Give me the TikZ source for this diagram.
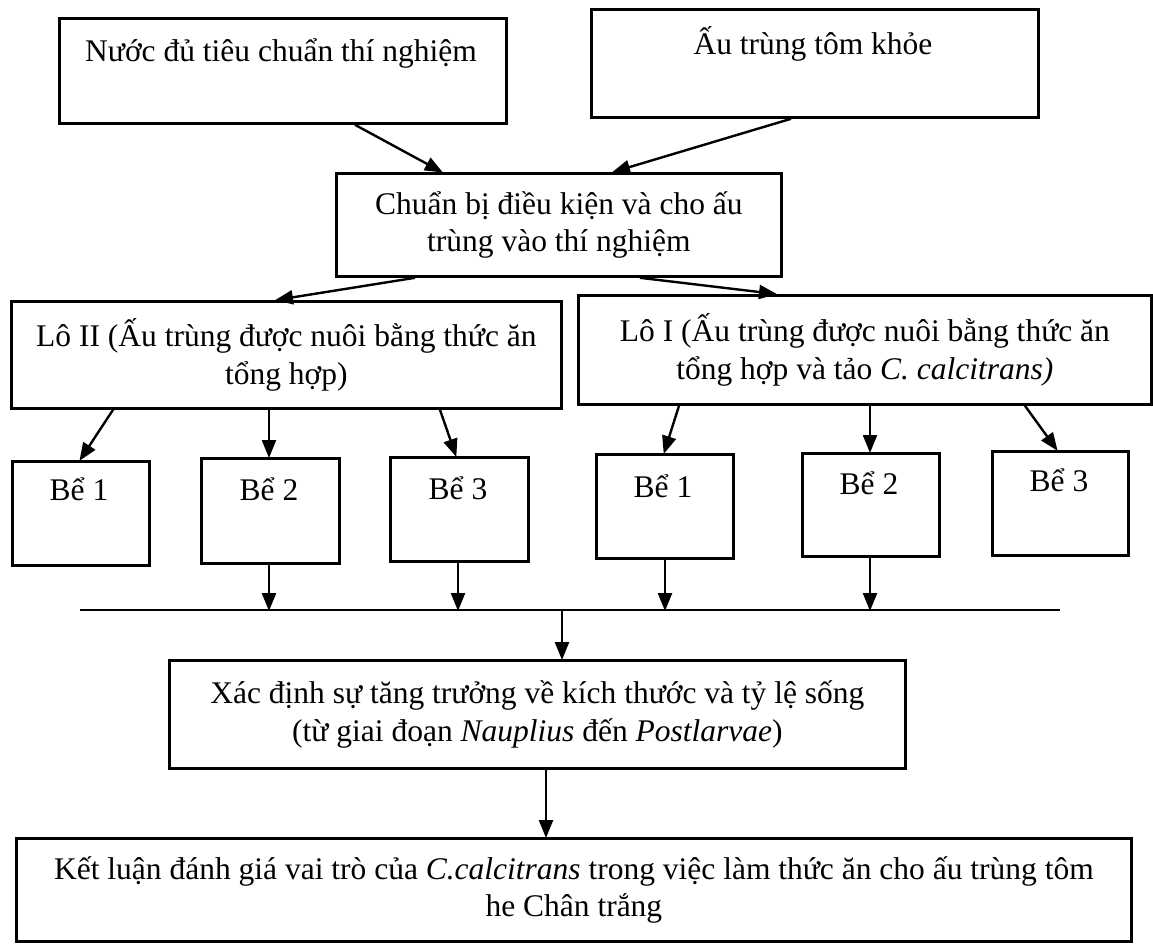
\documentclass[tikz,border=0pt]{standalone}
\usepackage{fontspec}
\setmainfont{Liberation Serif}
\usetikzlibrary{arrows.meta}
\tikzset{
  box/.style={draw, line width=2.8pt, inner sep=0pt, anchor=north west},
  txt/.style={font=\fontsize{31.5}{37.5}\selectfont, align=center, inner sep=0pt},
  arr/.style={-{Triangle[length=18pt,width=14pt]}, line width=2.4pt, shorten >=-1pt},
  ln/.style={line width=2.6pt},
}
\begin{document}
\begin{tikzpicture}[x=1pt,y=-1pt]
\useasboundingbox[fill=white] (0,0) rectangle (1153,948);
% top row
\node[box, minimum width=447pt, minimum height=105pt] (A) at (58,17) {};
\node[txt, anchor=base] (At) at (281,61) {Nước đủ tiêu chuẩn thí nghiệm};
\node[box, minimum width=447pt, minimum height=108pt] (B) at (590,8) {};
\node[txt, anchor=base] (Bt) at (813,54) {Ấu trùng tôm khỏe};
% preparation
\node[box, txt, minimum width=445pt, minimum height=103pt] (C) at (335,172) {Chuẩn bị điều kiện và cho ấu\\trùng vào thí nghiệm};
% lots
\node[box, txt, minimum width=550pt, minimum height=107pt] (D) at (10,300) {Lô II (Ấu trùng được nuôi bằng thức ăn\\tổng hợp)};
\node[box, txt, minimum width=573pt, minimum height=109pt] (E) at (577,294) {Lô I (Ấu trùng được nuôi bằng thức ăn\\tổng hợp và tảo \textit{C. calcitrans)}};
% tanks
\node[box, minimum width=137pt, minimum height=104pt] (D1) at (11,460) {};
\node[txt, anchor=base] (D1t) at (79,500) {Bể 1};
\node[box, minimum width=138pt, minimum height=105pt] (D2) at (200,457) {};
\node[txt, anchor=base] (D2t) at (269,500) {Bể 2};
\node[box, minimum width=138pt, minimum height=104pt] (D3) at (389,456) {};
\node[txt, anchor=base] (D3t) at (458,499) {Bể 3};
\node[box, minimum width=137pt, minimum height=104pt] (E1) at (595,453) {};
\node[txt, anchor=base] (E1t) at (663,497) {Bể 1};
\node[box, minimum width=137pt, minimum height=103pt] (E2) at (801,452) {};
\node[txt, anchor=base] (E2t) at (869,494) {Bể 2};
\node[box, minimum width=136pt, minimum height=104pt] (E3) at (991,450) {};
\node[txt, anchor=base] (E3t) at (1059,491) {Bể 3};
% collecting line
\coordinate (L1) at (80,610);
\coordinate (L2) at (1060,610);
\draw[ln] (L1) -- (L2);
\coordinate (Lm) at (562,610);
% result boxes
\node[box, txt, minimum width=736pt, minimum height=108pt] (F) at (168,659) {Xác định sự tăng trưởng về kích thước và tỷ lệ sống\\(từ giai đoạn \textit{Nauplius} đến \textit{Postlarvae})};
\node[box, txt, minimum width=1115pt, minimum height=103pt] (G) at (15,837) {Kết luận đánh giá vai trò của \textit{C.calcitrans} trong việc làm thức ăn cho ấu trùng tôm\\he Chân trắng};
% arrows
\draw[arr] (355,0 |- A.south) -- (442,0 |- C.north);
\draw[arr] (791,0 |- B.south) -- (613,0 |- C.north);
\draw[arr] (415,0 |- C.south) -- (276,0 |- D.north);
\draw[arr] (640,0 |- C.south) -- (776,0 |- E.north);
\draw[arr] (113,0 |- D.south) -- (80,0 |- D1.north);
\draw[arr] (269,0 |- D.south) -- (269,0 |- D2.north);
\draw[arr] (440,0 |- D.south) -- (456,0 |- D3.north);
\draw[arr] (679,0 |- E.south) -- (664,0 |- E1.north);
\draw[arr] (870,0 |- E.south) -- (870,0 |- E2.north);
\draw[arr] (1025,0 |- E.south) -- (1057,0 |- E3.north);
\draw[arr] (269,0 |- D2.south) -- (269,0 |- L1);
\draw[arr] (458,0 |- D3.south) -- (458,0 |- L1);
\draw[arr] (665,0 |- E1.south) -- (665,0 |- L1);
\draw[arr] (870,0 |- E2.south) -- (870,0 |- L1);
\draw[arr] (Lm) -- (Lm |- F.north);
\draw[arr] (546,0 |- F.south) -- (546,0 |- G.north);
\end{tikzpicture}
\end{document}
